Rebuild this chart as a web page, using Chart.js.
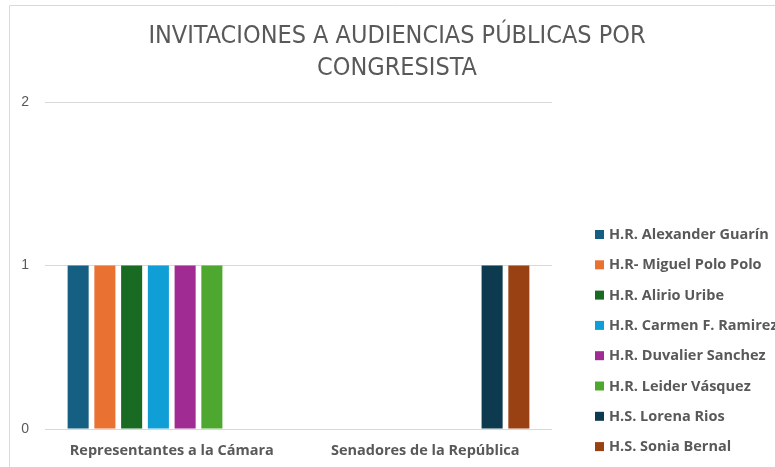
<!DOCTYPE html>
<html lang="es">
<head>
  <meta charset="UTF-8">
  <title>Invitaciones a audiencias públicas por congresista</title>
  <script src="https://cdn.jsdelivr.net/npm/chart.js"></script>
  <style>
    html, body { margin: 0; padding: 0; background: #fff; overflow: hidden; }
    #wrap { position: relative; width: 775px; height: 467px; }
  </style>
</head>
<body>
  <div id="wrap">
    <canvas id="myChart" width="775" height="467"></canvas>
  </div>
  <script>
// data
const categories = ['Representantes a la Cámara', 'Senadores de la República'];
const congresistas = [
  'H.R. Alexander Guarín',
  'H.R- Miguel Polo Polo',
  'H.R. Alirio Uribe',
  'H.R. Carmen F. Ramirez',
  'H.R. Duvalier Sanchez',
  'H.R. Leider Vásquez',
  'H.S. Lorena Rios',
  'H.S. Sonia Bernal'
];
// invitations per congresista, one value per category
const invitaciones = [
  [1, 0],
  [1, 0],
  [1, 0],
  [1, 0],
  [1, 0],
  [1, 0],
  [0, 1],
  [0, 1]
];
const colores = ['#156082', '#e97132', '#196b24', '#0f9ed5', '#a02b93', '#4ea72e', '#0e3a4f', '#9a4113'];
const yTicks = [0, 1, 2];
const titulo = ['INVITACIONES A AUDIENCIAS PÚBLICAS POR', 'CONGRESISTA'];

const GREY = '#595959';

// frame, title and legend drawn on the canvas
const decor = {
  id: 'decor',
  beforeDraw(chart) {
    const ctx = chart.ctx;
    ctx.save();
    ctx.strokeStyle = '#d9d9d9';
    ctx.lineWidth = 1;
    ctx.beginPath();
    ctx.moveTo(9.5, 467);
    ctx.lineTo(9.5, 5.5);
    ctx.lineTo(775, 5.5);
    ctx.stroke();
    ctx.restore();
  },
  afterDraw(chart) {
    const ctx = chart.ctx;
    ctx.save();
    ctx.fillStyle = GREY;
    ctx.textAlign = 'center';
    ctx.textBaseline = 'middle';
    ctx.font = '25px "Liberation Sans Narrow", "DejaVu Sans Condensed", sans-serif';
    titulo.forEach((t, i) => ctx.fillText(t, 397, 36 + i * 32));

    ctx.textAlign = 'left';
    ctx.font = 'bold 14.5px "Open Sans", sans-serif';
    chart.data.datasets.forEach((ds, i) => {
      const y = 234 + i * 30.3;
      ctx.fillStyle = ds.backgroundColor;
      ctx.fillRect(595, y - 4, 9, 9);
      ctx.fillStyle = GREY;
      ctx.fillText(ds.label, 609, y + 1);
    });
    ctx.restore();
  }
};

const ctx = document.getElementById('myChart').getContext('2d');
new Chart(ctx, {
  type: 'bar',
  data: {
    labels: categories,
    datasets: congresistas.map((name, i) => ({
      label: name,
      data: invitaciones[i],
      backgroundColor: colores[i],
      borderWidth: 0,
      categoryPercentage: 0.844,
      barPercentage: 0.787
    }))
  },
  options: {
    responsive: false,
    animation: false,
    layout: { padding: { left: 0, right: 223, top: 102, bottom: 0 } },
    plugins: {
      legend: { display: false },
      title: { display: false },
      tooltip: { enabled: false }
    },
    scales: {
      x: {
        grid: { display: false, drawTicks: false },
        border: { display: false },
        ticks: {
          color: GREY,
          padding: 13,
          font: { family: '"Open Sans", sans-serif', size: 14.5, weight: 'bold' }
        },
        afterFit(s) { s.height = 38; }
      },
      y: {
        min: 0,
        max: 2,
        afterBuildTicks(s) { s.ticks = yTicks.map(v => ({ value: v })); },
        grid: { color: '#d9d9d9', lineWidth: 1, drawTicks: false },
        border: { display: false },
        ticks: {
          color: GREY,
          padding: 16,
          font: { family: '"Liberation Sans", sans-serif', size: 14 }
        },
        afterFit(s) { s.width = 45; }
      }
    }
  },
  plugins: [decor]
});
  </script>
</body>
</html>
